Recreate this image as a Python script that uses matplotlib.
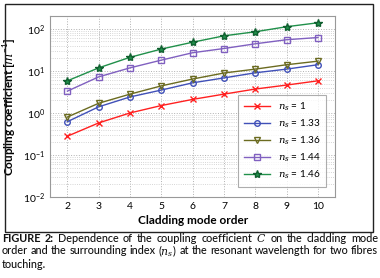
import matplotlib
matplotlib.use("Agg")
import matplotlib.pyplot as plt
from matplotlib.patches import Rectangle

# cladding mode order
modes = [2, 3, 4, 5, 6, 7, 8, 9, 10]

# coupling coefficient [1/m] for each surrounding index
c_100 = [0.28, 0.58, 1.0, 1.5, 2.1, 2.8, 3.7, 4.6, 5.8]
c_133 = [0.62, 1.4, 2.4, 3.5, 5.2, 6.8, 9.0, 11, 14]
c_136 = [0.8, 1.7, 2.8, 4.4, 6.4, 8.9, 11, 14, 17]
c_144 = [3.3, 7.2, 11.8, 18, 27, 34, 44, 55, 62]
c_146 = [5.8, 11.8, 21, 33, 48, 68, 85, 112, 139]

labels = ["1", "1.33", "1.36", "1.44", "1.46"]

plt.rcParams['font.family'] = ['Lato', 'DejaVu Sans']
plt.rcParams['mathtext.fontset'] = 'custom'
plt.rcParams['mathtext.rm'] = 'Lato'
plt.rcParams['mathtext.it'] = 'DejaVu Serif:italic'
plt.rcParams['mathtext.bf'] = 'Lato:bold'

fig = plt.figure(figsize=(3.8, 2.78), dpi=100)

# frame round the chart
fig.patches.append(Rectangle((0.013, 0.165), 0.969, 0.821, transform=fig.transFigure,
                             fill=False, edgecolor='#222222', linewidth=1.0))

ax = fig.add_axes([0.132, 0.291, 0.75, 0.651])

ax.plot(modes, c_100, color='#ff2020', marker='x', markersize=4, linewidth=1,
        label=r'$n_s$ = ' + labels[0])
ax.plot(modes, c_133, color='#4050b8', marker='o', markersize=4, mfc='none', linewidth=1,
        label=r'$n_s$ = ' + labels[1])
ax.plot(modes, c_136, color='#6b6b20', marker='v', markersize=4.5, mfc='none', linewidth=1,
        label=r'$n_s$ = ' + labels[2])
ax.plot(modes, c_144, color='#8060c0', marker='s', markersize=4, mfc='none', linewidth=1,
        label=r'$n_s$ = ' + labels[3])
ax.plot(modes, c_146, color='#20904a', marker='*', markersize=6, linewidth=1,
        markeredgecolor='#106030', label=r'$n_s$ = ' + labels[4])

ax.set_yscale('log')
ax.set_ylim(1e-2, 2e2)
ax.set_xlim(1.45, 10.55)
ax.set_xticks(modes)
ax.grid(True, which='major', linestyle=':', color='#b0b0b0', linewidth=0.7)
ax.grid(True, which='minor', linestyle=':', color='#c8c8c8', linewidth=0.6)
ax.tick_params(which='both', length=0, labelsize=7.5)
for s in ax.spines.values():
    s.set_color('#999999')
    s.set_linewidth(0.8)

ax.set_xlabel('Cladding mode order', fontsize=8.5, fontweight='bold', labelpad=3)
ax.set_ylabel(r'Coupling coefficient [$m^{-1}$]', fontsize=8.5, fontweight='bold', labelpad=3)

leg = ax.legend(loc='lower right', fontsize=7.2, frameon=True, fancybox=False,
                edgecolor='#999999', handlelength=2.6, labelspacing=0.45,
                borderpad=0.55, bbox_to_anchor=(0.985, 0.03))
leg.get_frame().set_linewidth(0.8)

# caption, justified by hand
cap = [
    [('FIGURE', 'bold'), ('2:', 'bold'), ('Dependence', 'medium'), ('of', 'medium'), ('the', 'medium'),
     ('coupling', 'medium'), ('coefficient', 'medium'), (r'$C$', 'medium'), ('on', 'medium'),
     ('the', 'medium'), ('cladding', 'medium'), ('mode', 'medium')],
    [(w, 'medium') for w in ['order', 'and', 'the', 'surrounding', 'index', r'($n_s$)', 'at', 'the',
                              'resonant', 'wavelength', 'for', 'two', 'fibres']],
    [('touching.', 'medium')],
]
ys = [238, 251, 264]
x_left, x_right = 2 / 380, 378 / 380
fig.canvas.draw()
rend = fig.canvas.get_renderer()
for i, (words, y) in enumerate(zip(cap, ys)):
    texts = [fig.text(0, 1 - y / 278, w, fontsize=7.8, fontweight=fw, va='center', ha='left',
                      color='#111111') for w, fw in words]
    widths = [t.get_window_extent(rend).width / fig.bbox.width for t in texts]
    if i < len(cap) - 1:
        gap = (x_right - x_left - sum(widths)) / (len(texts) - 1)
    else:
        gap = 0.008
    x = x_left
    for t, w in zip(texts, widths):
        t.set_x(x)
        x += w + gap

fig.savefig('out.png', dpi=100)
